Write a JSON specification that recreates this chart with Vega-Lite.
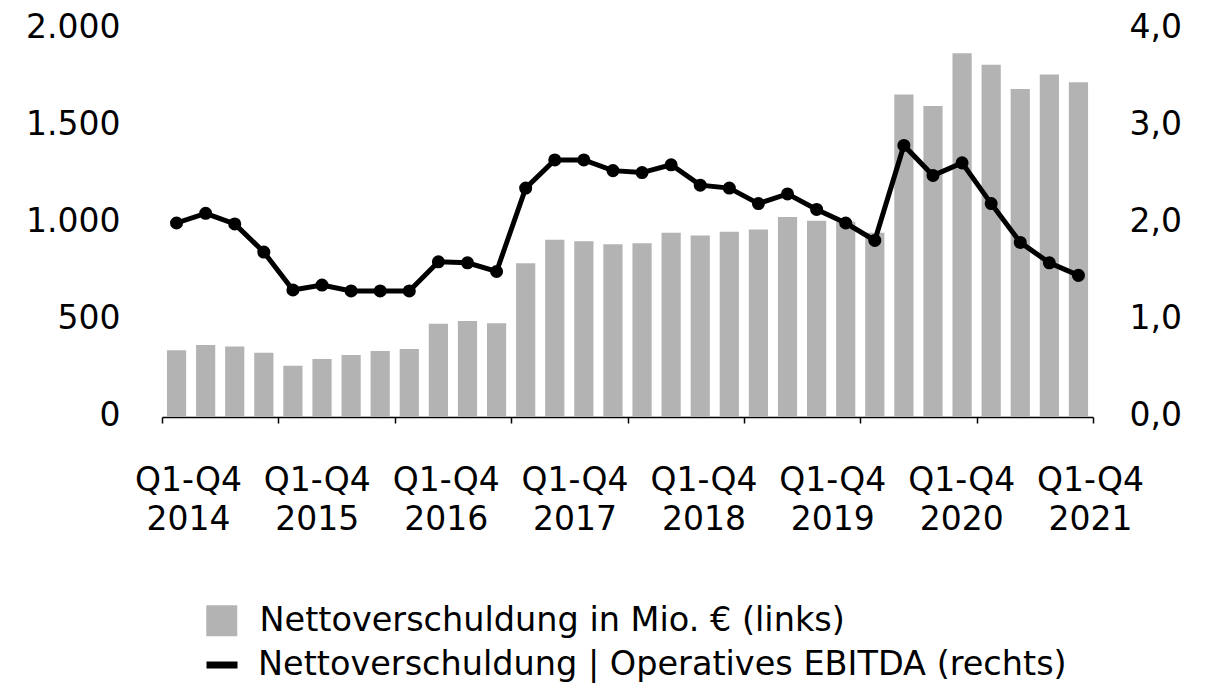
{
  "$schema": "https://vega.github.io/schema/vega-lite/v6.json",
  "width": 931,
  "height": 388,
  "autosize": "none",
  "padding": {"left": 162, "top": 29, "right": 116, "bottom": 267},
  "config": {
    "font": "DejaVu Sans",
    "view": {"stroke": null},
    "axis": {"labelFont": "DejaVu Sans", "labelFontSize": 33, "labelColor": "black", "grid": false},
    "legend": {"labelFont": "DejaVu Sans", "labelFontSize": 33.5, "labelColor": "black", "labelLimit": 1000}
  },
  "data": {
    "values": [
      {"Quartal": "2014-Q1", "Jahr": "2014", "Schulden": 344, "Ratio": 2.00},
      {"Quartal": "2014-Q2", "Jahr": "2014", "Schulden": 371, "Ratio": 2.10},
      {"Quartal": "2014-Q3", "Jahr": "2014", "Schulden": 364, "Ratio": 1.99},
      {"Quartal": "2014-Q4", "Jahr": "2014", "Schulden": 331, "Ratio": 1.70},
      {"Quartal": "2015-Q1", "Jahr": "2015", "Schulden": 264, "Ratio": 1.31},
      {"Quartal": "2015-Q2", "Jahr": "2015", "Schulden": 299, "Ratio": 1.36},
      {"Quartal": "2015-Q3", "Jahr": "2015", "Schulden": 320, "Ratio": 1.30},
      {"Quartal": "2015-Q4", "Jahr": "2015", "Schulden": 340, "Ratio": 1.30},
      {"Quartal": "2016-Q1", "Jahr": "2016", "Schulden": 351, "Ratio": 1.30},
      {"Quartal": "2016-Q2", "Jahr": "2016", "Schulden": 481, "Ratio": 1.60},
      {"Quartal": "2016-Q3", "Jahr": "2016", "Schulden": 495, "Ratio": 1.59},
      {"Quartal": "2016-Q4", "Jahr": "2016", "Schulden": 483, "Ratio": 1.50},
      {"Quartal": "2017-Q1", "Jahr": "2017", "Schulden": 792, "Ratio": 2.36},
      {"Quartal": "2017-Q2", "Jahr": "2017", "Schulden": 914, "Ratio": 2.65},
      {"Quartal": "2017-Q3", "Jahr": "2017", "Schulden": 906, "Ratio": 2.65},
      {"Quartal": "2017-Q4", "Jahr": "2017", "Schulden": 890, "Ratio": 2.54},
      {"Quartal": "2018-Q1", "Jahr": "2018", "Schulden": 895, "Ratio": 2.52},
      {"Quartal": "2018-Q2", "Jahr": "2018", "Schulden": 950, "Ratio": 2.60},
      {"Quartal": "2018-Q3", "Jahr": "2018", "Schulden": 935, "Ratio": 2.39},
      {"Quartal": "2018-Q4", "Jahr": "2018", "Schulden": 955, "Ratio": 2.36},
      {"Quartal": "2019-Q1", "Jahr": "2019", "Schulden": 966, "Ratio": 2.20},
      {"Quartal": "2019-Q2", "Jahr": "2019", "Schulden": 1031, "Ratio": 2.30},
      {"Quartal": "2019-Q3", "Jahr": "2019", "Schulden": 1012, "Ratio": 2.14},
      {"Quartal": "2019-Q4", "Jahr": "2019", "Schulden": 1007, "Ratio": 2.00},
      {"Quartal": "2020-Q1", "Jahr": "2020", "Schulden": 950, "Ratio": 1.82},
      {"Quartal": "2020-Q2", "Jahr": "2020", "Schulden": 1663, "Ratio": 2.80},
      {"Quartal": "2020-Q3", "Jahr": "2020", "Schulden": 1603, "Ratio": 2.49},
      {"Quartal": "2020-Q4", "Jahr": "2020", "Schulden": 1875, "Ratio": 2.62},
      {"Quartal": "2021-Q1", "Jahr": "2021", "Schulden": 1816, "Ratio": 2.20},
      {"Quartal": "2021-Q2", "Jahr": "2021", "Schulden": 1691, "Ratio": 1.80},
      {"Quartal": "2021-Q3", "Jahr": "2021", "Schulden": 1766, "Ratio": 1.59},
      {"Quartal": "2021-Q4", "Jahr": "2021", "Schulden": 1725, "Ratio": 1.46}
    ]
  },
  "layer": [
    {
      "mark": {"type": "bar", "width": {"band": 0.66}},
      "encoding": {
        "x": {"field": "Quartal", "type": "ordinal", "sort": null, "scale": {"type": "band", "paddingInner": 0, "paddingOuter": 0}, "axis": null},
        "y": {
          "field": "Schulden", "type": "quantitative",
          "scale": {"domain": [0, 2000], "nice": false},
          "axis": {"orient": "left", "values": [0, 500, 1000, 1500, 2000], "labelExpr": "replace(format(datum.value, ',d'), ',', '.')", "domain": false, "ticks": false, "labelPadding": 42, "labelOffset": -2, "title": null}
        },
        "fill": {
          "datum": "Nettoverschuldung in Mio. € (links)",
          "scale": {"range": ["#b3b3b3"]},
          "legend": {"title": null, "orient": "none", "legendX": 43, "legendY": 575, "symbolType": "square", "symbolSize": 961, "symbolOpacity": 1, "labelOffset": 21, "symbolStrokeWidth": 0}
        }
      }
    },
    {
      "mark": {"type": "line", "strokeWidth": 5},
      "encoding": {
        "x": {"field": "Quartal", "type": "ordinal", "sort": null, "scale": {"type": "band", "paddingInner": 0, "paddingOuter": 0}, "axis": null},
        "y": {
          "field": "Ratio", "type": "quantitative",
          "scale": {"domain": [0, 4], "nice": false},
          "axis": {"orient": "right", "values": [0, 1, 2, 3, 4], "labelExpr": "replace(format(datum.value, '.1f'), '.', ',')", "domain": false, "ticks": false, "labelPadding": 36, "labelOffset": -2, "title": null}
        },
        "stroke": {
          "datum": "Nettoverschuldung | Operatives EBITDA (rechts)",
          "scale": {"range": ["black"]},
          "legend": {"title": null, "orient": "none", "legendX": 41, "legendY": 617, "symbolType": "stroke", "symbolSize": 961, "symbolStrokeWidth": 7, "labelOffset": 17}
        }
      }
    },
    {
      "mark": {"type": "circle", "size": 170, "opacity": 1, "color": "black"},
      "encoding": {
        "x": {"field": "Quartal", "type": "ordinal", "sort": null, "scale": {"type": "band", "paddingInner": 0, "paddingOuter": 0}, "axis": null},
        "y": {"field": "Ratio", "type": "quantitative", "scale": {"domain": [0, 4], "nice": false}, "axis": null}
      }
    },
    {
      "mark": {"type": "text", "text": ""},
      "encoding": {
        "x": {
          "field": "Jahr", "type": "ordinal", "sort": null,
          "scale": {"type": "band", "paddingInner": 0, "paddingOuter": 0},
          "axis": {"orient": "bottom", "labels": false, "tickBand": "extent", "tickSize": 6, "tickWidth": 1.5, "tickColor": "black", "domainColor": "black", "domainWidth": 1.5, "title": null}
        }
      }
    },
    {
      "mark": {"type": "text", "text": ""},
      "encoding": {
        "x": {
          "field": "Jahr", "type": "ordinal", "sort": null,
          "scale": {"type": "band", "paddingInner": 0, "paddingOuter": 0, "range": [-38, 993]},
          "axis": {"orient": "bottom", "labels": true, "domain": false, "ticks": false, "labelExpr": "['Q1-Q4', datum.label]", "labelLineHeight": 39, "labelPadding": 47, "labelAngle": 0, "title": null}
        }
      }
    }
  ],
  "resolve": {
    "scale": {"x": "independent", "y": "independent"},
    "axis": {"x": "independent", "y": "independent"}
  }
}
